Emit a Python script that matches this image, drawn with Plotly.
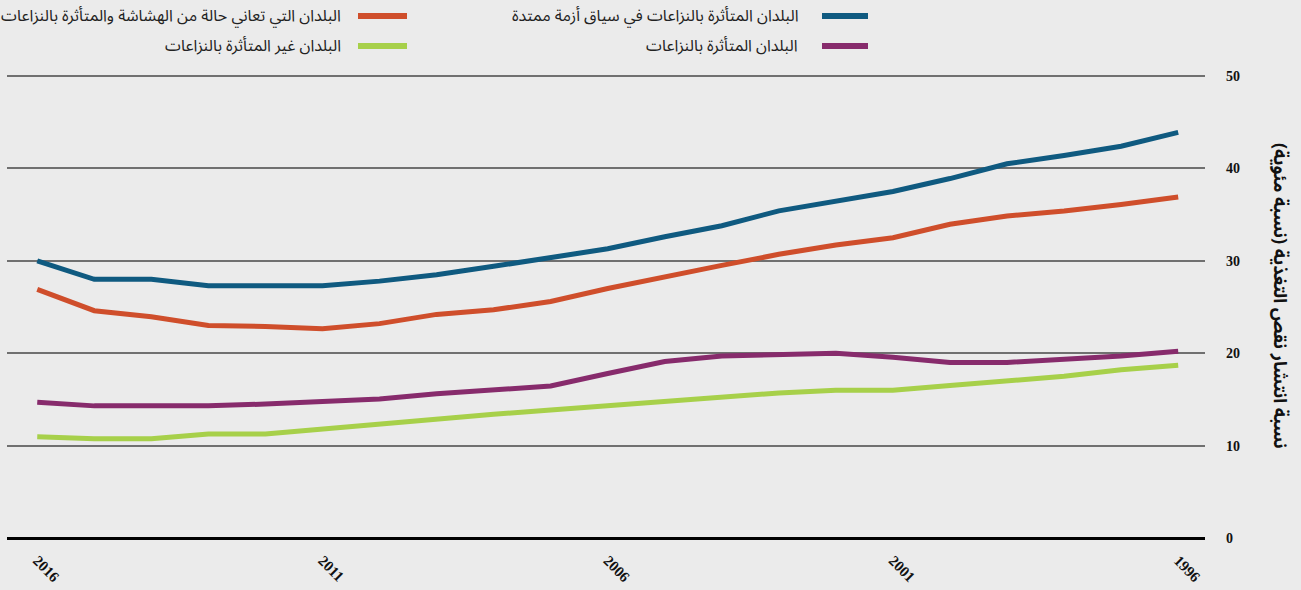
import plotly.graph_objects as go

years = list(range(2016, 1995, -1))

protracted = [30.0, 28.0, 28.0, 27.3, 27.3, 27.3, 27.8, 28.5, 29.4, 30.3, 31.3,
              32.6, 33.8, 35.4, 36.5, 37.5, 38.9, 40.5, 41.4, 42.4, 43.9]
fragile = [26.9, 24.6, 23.95, 23.0, 22.9, 22.65, 23.2, 24.2, 24.7, 25.6, 27.0,
           28.3, 29.5, 30.7, 31.7, 32.5, 33.95, 34.85, 35.4, 36.1, 36.9]
conflict = [14.7, 14.3, 14.3, 14.3, 14.5, 14.75, 15.05, 15.6, 16.0, 16.45, 17.8,
            19.1, 19.7, 19.9, 20.0, 19.55, 19.0, 19.0, 19.3, 19.7, 20.2]
nonconflict = [10.95, 10.75, 10.75, 11.25, 11.25, 11.8, 12.3, 12.9, 13.4, 13.85, 14.3,
               14.7, 15.15, 15.7, 16.0, 16.0, 16.5, 17.0, 17.5, 18.2, 18.7]

names = ["البلدان المتأثرة بالنزاعات في سياق أزمة ممتدة",
         "البلدان التي تعاني حالة من الهشاشة والمتأثرة بالنزاعات",
         "البلدان المتأثرة بالنزاعات",
         "البلدان غير المتأثرة بالنزاعات"]
colors = ["#0f5a80", "#cf4e2b", "#872b6c", "#a7d04a"]
series = [protracted, fragile, conflict, nonconflict]

y_ticks = [0, 10, 20, 30, 40, 50]
x_ticks = [2016, 2011, 2006, 2001, 1996]
y_title = "نسبة انتشار نقص التغذية (نسبة مئوية)"

arabic_font = "Noto Sans Arabic, DejaVu Sans, Noto Sans, sans-serif"

fig = go.Figure()
for name, col, vals in zip(names, colors, series):
    fig.add_trace(go.Scatter(x=years, y=vals, mode="lines", name=name,
                             line=dict(color=col, width=5), showlegend=False,
                             hoverinfo="x+y"))

L, R, T, B = 7, 96, 74, 52
W, H = 1301, 590
pw, ph = W - L - R, H - T - B
y_top = 50 * ph / (ph - 2)  # leaves 2px of headroom so the 50 gridline is drawn

def px_x(x):
    return (x - L) / pw

def px_y(y):
    return (H - B - y) / ph

# manual RTL legend (line sample to the right of the text)
legend_items = [
    (0, colors[0], 822, 868, 16, 800),
    (2, colors[2], 822, 868, 46, 800),
    (1, colors[1], 358, 407, 16, 343),
    (3, colors[3], 358, 407, 46, 343),
]
shapes = []
annotations = []
for idx, col, x0, x1, yy, xt in legend_items:
    shapes.append(dict(type="line", xref="paper", yref="paper",
                       x0=px_x(x0), x1=px_x(x1), y0=px_y(yy), y1=px_y(yy),
                       line=dict(color=col, width=6)))
    annotations.append(dict(xref="paper", yref="paper", x=px_x(xt), y=px_y(yy),
                            text=names[idx], showarrow=False, xanchor="right",
                            yanchor="middle",
                            font=dict(family=arabic_font, size=16, color="#222")))

annotations.append(dict(xref="paper", yref="paper", x=px_x(1280), y=px_y(296),
                        text="<b>" + y_title + "</b>", showarrow=False, textangle=90,
                        xanchor="center", yanchor="middle",
                        font=dict(family=arabic_font, size=18, color="#111")))

fig.update_layout(
    width=W, height=H,
    margin=dict(l=L, r=R, t=T, b=B, pad=0, autoexpand=False),
    paper_bgcolor="#ebebeb", plot_bgcolor="#ebebeb",
    shapes=shapes, annotations=annotations,
    xaxis=dict(range=[2016.53, 1995.53], tickvals=x_ticks,
               ticktext=["<b>%d</b>" % v for v in x_ticks],
               tickangle=45, showgrid=False, zeroline=False, showline=False,
               ticks="", ticklabelstandoff=10, automargin=False,
               tickfont=dict(family="Liberation Serif", size=15, color="#111")),
    yaxis=dict(range=[0, y_top], side="right", tickvals=y_ticks,
               ticktext=["<b>%d</b>" % v for v in y_ticks],
               showgrid=True, gridcolor="#707070", gridwidth=1.5,
               zeroline=True, zerolinecolor="#000", zerolinewidth=2.5,
               showline=False, ticks="", ticklabelstandoff=20, automargin=False,
               tickfont=dict(family="Liberation Serif", size=14, color="#111")),
)

fig.write_html("out.html", config={"displayModeBar": False},
               post_script="document.body.style.margin='0';document.body.style.background='#ebebeb';")
